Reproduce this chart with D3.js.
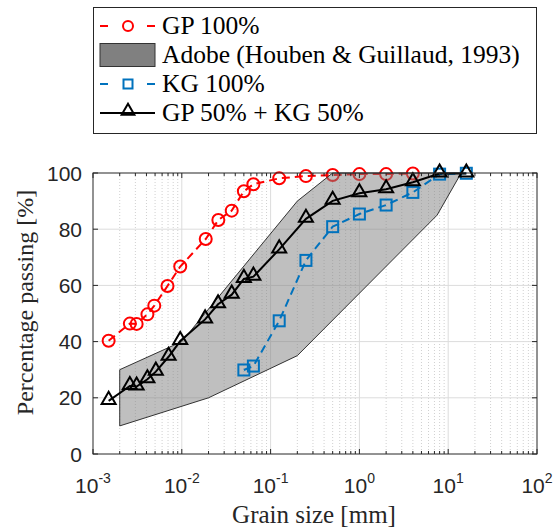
<!DOCTYPE html>
<html>
<head>
<meta charset="utf-8">
<script src="https://cdn.jsdelivr.net/npm/d3@7"></script>
<style>
  body { margin: 0; background: #fff; }
  svg { display: block; }
  .serif { font-family: "Liberation Serif", "DejaVu Serif", serif; }
  .sans { font-family: "Liberation Sans", Arial, sans-serif; }
</style>
</head>
<body>
<div id="chart"></div>
<script>
// grain size distribution data (mm, % passing)
const gpSize = [0.0015, 0.0026, 0.0031, 0.0041, 0.0049, 0.0069, 0.0096, 0.0186, 0.0258, 0.0365, 0.05, 0.064, 0.125, 0.25, 0.5, 1, 2, 4];
const gpPass = [40.3, 46.4, 46.3, 49.7, 52.8, 59.8, 66.7, 76.5, 83.3, 86.6, 93.5, 96.0, 98.1, 98.9, 99.3, 99.6, 99.6, 99.8];

const kgSize = [0.05, 0.064, 0.125, 0.25, 0.5, 1, 2, 4, 8, 16];
const kgPass = [29.9, 31.3, 47.4, 68.9, 80.9, 85.4, 88.6, 93.1, 99.6, 99.9];

const mixSize = [0.0015, 0.0026, 0.0031, 0.0041, 0.0051, 0.0071, 0.0096, 0.0183, 0.0256, 0.0365, 0.05, 0.064, 0.125, 0.25, 0.5, 1, 2, 4, 8, 16];
const mixPass = [18.9, 24.2, 24.0, 26.6, 29.3, 34.6, 40.2, 47.9, 53.3, 56.7, 62.3, 63.1, 72.8, 83.7, 90.1, 92.8, 94.2, 96.7, 99.8, 99.8];

// Adobe envelope (Houben & Guillaud, 1993)
const adobeUpperSize = [0.002, 0.01, 0.2, 0.5, 14];
const adobeUpperPass = [30, 40, 90, 100, 100];
const adobeLowerSize = [0.002, 0.02, 0.2, 7.5, 14];
const adobeLowerPass = [10, 20, 35, 85, 100];

const xTicks = [-3, -2, -1, 0, 1, 2];
const yTicks = [0, 20, 40, 60, 80, 100];

const legendLabels = ["GP 100%", "Adobe (Houben & Guillaud, 1993)", "KG 100%", "GP 50% + KG 50%"];

const W = 558, H = 529;
const pLeft = 93, pRight = 537, pTop = 173, pBottom = 454;

const red = "#ff0000", blue = "#0072bd", axisCol = "#262626";

const svg = d3.select("#chart").append("svg")
  .attr("width", W)
  .attr("height", H);

const x = d3.scaleLog().domain([1e-3, 1e2]).range([pLeft, pRight]);
const y = d3.scaleLinear().domain([0, 100]).range([pBottom, pTop]);

// plot background
svg.append("rect")
  .attr("x", pLeft).attr("y", pTop)
  .attr("width", pRight - pLeft).attr("height", pBottom - pTop)
  .attr("fill", "#fff");

// minor x gridlines
let minor = [];
for (let e = -3; e < 2; e++) {
  for (let m = 2; m <= 9; m++) minor.push(m * Math.pow(10, e));
}
svg.append("g").selectAll("line").data(minor).join("line")
  .attr("x1", d => x(d)).attr("x2", d => x(d))
  .attr("y1", pTop).attr("y2", pBottom)
  .attr("stroke", "#d0d0d0")
  .attr("stroke-width", 1)
  .attr("stroke-dasharray", "1,2");

// major gridlines
svg.append("g").selectAll("line").data(xTicks.slice(1, -1)).join("line")
  .attr("x1", d => x(Math.pow(10, d))).attr("x2", d => x(Math.pow(10, d)))
  .attr("y1", pTop).attr("y2", pBottom)
  .attr("stroke", "#dcdcdc").attr("stroke-width", 1);
svg.append("g").selectAll("line").data(yTicks.slice(1, -1)).join("line")
  .attr("x1", pLeft).attr("x2", pRight)
  .attr("y1", d => y(d)).attr("y2", d => y(d))
  .attr("stroke", "#dcdcdc").attr("stroke-width", 1);

let line = d3.line()
  .x(d => x(d[0]))
  .y(d => y(d[1]));

function pairs(xs, ys) {
  return xs.map((v, i) => [v, ys[i]]);
}

// GP 100%
let gp = pairs(gpSize, gpPass);
svg.append("path")
  .datum(gp)
  .attr("d", line)
  .attr("fill", "none")
  .attr("stroke", red)
  .attr("stroke-width", 2)
  .attr("stroke-dasharray", "8,5");
svg.append("g").selectAll("circle").data(gp).join("circle")
  .attr("cx", d => x(d[0])).attr("cy", d => y(d[1]))
  .attr("r", 6)
  .attr("fill", "none")
  .attr("stroke", red)
  .attr("stroke-width", 2);

// Adobe envelope
let band = pairs(adobeUpperSize, adobeUpperPass)
  .concat(pairs(adobeLowerSize, adobeLowerPass).reverse());
svg.append("path")
  .datum(band)
  .attr("d", d => line(d) + "Z")
  .attr("fill", "#808080")
  .attr("fill-opacity", 0.5)
  .attr("stroke", "#333")
  .attr("stroke-width", 1);

// KG 100%
let kg = pairs(kgSize, kgPass);
svg.append("path")
  .datum(kg)
  .attr("d", line)
  .attr("fill", "none")
  .attr("stroke", blue)
  .attr("stroke-width", 2)
  .attr("stroke-dasharray", "8,5");
svg.append("g").selectAll("rect").data(kg).join("rect")
  .attr("x", d => x(d[0]) - 5.5).attr("y", d => y(d[1]) - 5.5)
  .attr("width", 11).attr("height", 11)
  .attr("fill", "none")
  .attr("stroke", blue)
  .attr("stroke-width", 2);

// GP 50% + KG 50%
let tri = d3.symbol().type(d3.symbolTriangle).size(85);
let mix = pairs(mixSize, mixPass);
svg.append("path")
  .datum(mix)
  .attr("d", line)
  .attr("fill", "none")
  .attr("stroke", "#000")
  .attr("stroke-width", 2);
svg.append("g").selectAll("path").data(mix).join("path")
  .attr("d", tri)
  .attr("transform", d => "translate(" + x(d[0]) + "," + (y(d[1]) - 1) + ")")
  .attr("fill", "none")
  .attr("stroke", "#000")
  .attr("stroke-width", 2);

// ticks (inside, all four sides)
let tickG = svg.append("g").attr("stroke", axisCol).attr("stroke-width", 1);
minor.forEach(d => {
  tickG.append("line").attr("x1", x(d)).attr("x2", x(d)).attr("y1", pBottom).attr("y2", pBottom - 3);
  tickG.append("line").attr("x1", x(d)).attr("x2", x(d)).attr("y1", pTop).attr("y2", pTop + 3);
});
xTicks.forEach(e => {
  let px = x(Math.pow(10, e));
  tickG.append("line").attr("x1", px).attr("x2", px).attr("y1", pBottom).attr("y2", pBottom - 5);
  tickG.append("line").attr("x1", px).attr("x2", px).attr("y1", pTop).attr("y2", pTop + 5);
});
yTicks.forEach(t => {
  tickG.append("line").attr("x1", pLeft).attr("x2", pLeft + 5).attr("y1", y(t)).attr("y2", y(t));
  tickG.append("line").attr("x1", pRight).attr("x2", pRight - 5).attr("y1", y(t)).attr("y2", y(t));
});

// frame
svg.append("rect")
  .attr("x", pLeft).attr("y", pTop)
  .attr("width", pRight - pLeft).attr("height", pBottom - pTop)
  .attr("fill", "none")
  .attr("stroke", axisCol)
  .attr("stroke-width", 1);

// tick labels
svg.append("g").selectAll("text").data(yTicks).join("text")
  .attr("class", "sans")
  .attr("x", pLeft - 11)
  .attr("y", d => y(d) + 7.5)
  .attr("text-anchor", "end")
  .style("font-size", "21px")
  .attr("fill", axisCol)
  .text(d => d);

let xl = svg.append("g").selectAll("text").data(xTicks).join("text")
  .attr("class", "sans")
  .attr("x", d => x(Math.pow(10, d)))
  .attr("y", 493)
  .attr("text-anchor", "middle")
  .style("font-size", "21px")
  .attr("fill", axisCol);
xl.append("tspan").text("10");
xl.append("tspan")
  .attr("dy", -10)
  .style("font-size", "14px")
  .text(d => d < 0 ? "-" + (-d) : d);

// axis labels
svg.append("text")
  .attr("class", "serif")
  .attr("x", (pLeft + pRight) / 2 - 1)
  .attr("y", 523)
  .attr("text-anchor", "middle")
  .style("font-size", "25px")
  .attr("fill", axisCol)
  .text("Grain size [mm]");

svg.append("text")
  .attr("class", "serif")
  .attr("transform", "translate(33," + ((pTop + pBottom) / 2 - 11) + ") rotate(-90)")
  .attr("text-anchor", "middle")
  .style("font-size", "24px")
  .attr("fill", axisCol)
  .text("Percentage passing [%]");

// legend
let lg = svg.append("g");
lg.append("rect")
  .attr("x", 93.5).attr("y", 7.5)
  .attr("width", 443).attr("height", 126)
  .attr("fill", "#fff")
  .attr("stroke", axisCol)
  .attr("stroke-width", 1);

let rowY = [26, 55, 84, 113];
let sx0 = 100, sx1 = 155, sxm = 128;

// row 1: GP 100%
[[sx0, sx0 + 8], [sx1 - 8, sx1]].forEach(s => {
  lg.append("line").attr("x1", s[0]).attr("x2", s[1])
    .attr("y1", rowY[0]).attr("y2", rowY[0])
    .attr("stroke", red).attr("stroke-width", 2);
});
lg.append("circle").attr("cx", sxm).attr("cy", rowY[0]).attr("r", 5)
  .attr("fill", "none").attr("stroke", red).attr("stroke-width", 2);

// row 2: Adobe
lg.append("rect").attr("x", sx0).attr("y", rowY[1] - 11.5)
  .attr("width", sx1 - sx0).attr("height", 23)
  .attr("fill", "#808080").attr("stroke", "#333").attr("stroke-width", 1);

// row 3: KG 100%
[[sx0, sx0 + 8], [sx1 - 8, sx1]].forEach(s => {
  lg.append("line").attr("x1", s[0]).attr("x2", s[1])
    .attr("y1", rowY[2]).attr("y2", rowY[2])
    .attr("stroke", blue).attr("stroke-width", 2);
});
lg.append("rect").attr("x", sxm - 4.5).attr("y", rowY[2] - 4.5)
  .attr("width", 9).attr("height", 9)
  .attr("fill", "none").attr("stroke", blue).attr("stroke-width", 2);

// row 4: mix
lg.append("line").attr("x1", sx0).attr("x2", sx1)
  .attr("y1", rowY[3]).attr("y2", rowY[3])
  .attr("stroke", "#000").attr("stroke-width", 2);
lg.append("path").attr("d", d3.symbol().type(d3.symbolTriangle).size(70))
  .attr("transform", "translate(" + sxm + "," + (rowY[3] - 2) + ")")
  .attr("fill", "none").attr("stroke", "#000").attr("stroke-width", 2);

lg.selectAll("text.lab").data(legendLabels).join("text")
  .attr("class", "lab serif")
  .attr("x", 162)
  .attr("y", (d, i) => rowY[i] + 8)
  .style("font-size", "25.5px")
  .attr("fill", "#000")
  .text(d => d);
</script>
</body>
</html>
